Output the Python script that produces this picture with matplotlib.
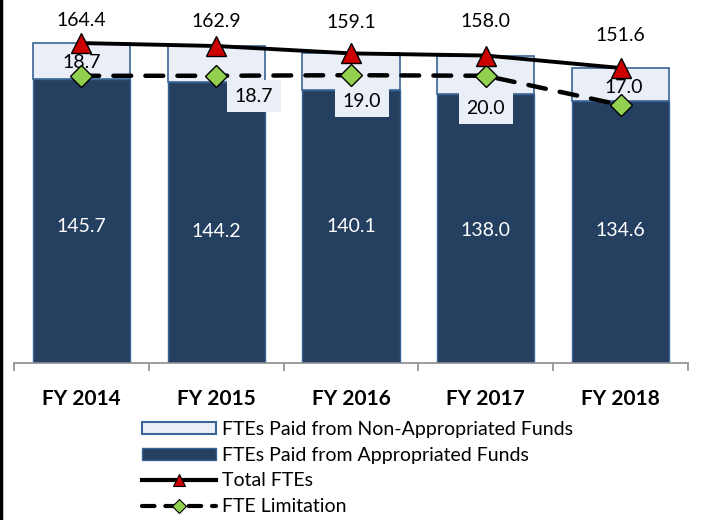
import matplotlib
matplotlib.use("Agg")
import matplotlib.pyplot as plt
from matplotlib.lines import Line2D
from matplotlib.patches import Patch
import numpy as np

plt.rcParams['font.family'] = ['Lato', 'DejaVu Sans']

categories = ["FY 2014", "FY 2015", "FY 2016", "FY 2017", "FY 2018"]
appropriated = [145.7, 144.2, 140.1, 138.0, 134.6]
non_appropriated = [18.7, 18.7, 19.0, 20.0, 17.0]
total_ftes = [164.4, 162.9, 159.1, 158.0, 151.6]
fte_limitation = [147.6, 147.6, 147.9, 147.6, 132.6]

# label placement (axis coordinates: x in category units, y in data units)
nonapp_label_x = [0.0, 1.28, 2.08, 3.0, 4.02]
nonapp_label_y = [154.3, 137.2, 134.6, 131.0, 141.8]
nonapp_label_box = [False, True, True, True, False]
total_label_y = [175.8, 175.3, 174.8, 175.3, 168.5]
app_label_y = [69.9, 67.8, 70.4, 68.3, 68.3]

navy = "#243F60"
light = "#E9EEF7"
edge = "#3A6494"

fig = plt.figure(figsize=(7.04, 5.20), dpi=100)
ax = fig.add_axes([14/704, (520-363)/520, (688-14)/704, 363/520])
x = np.arange(len(categories))
w = 0.72
ax.bar(x, appropriated, w, color=navy, edgecolor=edge, linewidth=1.0, zorder=2)
ax.bar(x, non_appropriated, w, bottom=appropriated, color=light, edgecolor=edge,
       linewidth=1.2, zorder=2)
dash = (0, (4.0, 3.2))
ax.plot(x, fte_limitation, color="black", lw=3.2, ls=dash,
        dash_capstyle='round', marker="D", markersize=11, markerfacecolor="#92D050",
        markeredgecolor="black", markeredgewidth=1.0, zorder=4)
ax.plot(x, total_ftes, color="black", lw=2.8, marker="^", markersize=14,
        markerfacecolor="#CC0000", markeredgecolor="black", markeredgewidth=1.0,
        zorder=5)

for i in range(len(categories)):
    ax.text(x[i], total_label_y[i], f"{total_ftes[i]:.1f}", ha="center", va="center",
            fontsize=14, color="black", zorder=6)
    ax.text(x[i], app_label_y[i], f"{appropriated[i]:.1f}", ha="center", va="center",
            fontsize=14, color="white", zorder=6)
    kw = {}
    if nonapp_label_box[i]:
        kw["bbox"] = dict(boxstyle="square,pad=0.4", facecolor=light, edgecolor="none")
    ax.text(nonapp_label_x[i], nonapp_label_y[i], f"{non_appropriated[i]:.1f}",
            ha="center", va="center", fontsize=14, color="black", zorder=3, **kw)

ax.set_xlim(-0.5, len(categories) - 0.5)
ax.set_ylim(0, 363/1.946)
for s in ["top", "right", "left"]:
    ax.spines[s].set_visible(False)
ax.spines["bottom"].set_color("#8C8C8C")
ax.spines["bottom"].set_linewidth(1.2)
ax.set_yticks([])
ax.set_xticks(x)
ax.set_xticklabels(categories, fontsize=15, fontweight="bold")
ax.tick_params(axis="x", which="major", length=0, pad=19)
ax.set_xticks(np.arange(-0.5, len(categories)), minor=True)
ax.tick_params(axis="x", which="minor", length=6, width=1.2, color="#8C8C8C")

handles = [
    Patch(facecolor=light, edgecolor=edge, linewidth=1.5),
    Patch(facecolor=navy, edgecolor=edge, linewidth=1.0),
    Line2D([], [], color="black", lw=3, marker="^", markersize=8,
           markerfacecolor="#CC0000", markeredgecolor="black", markeredgewidth=0.8),
    Line2D([], [], color="black", lw=3, ls=(0, (3.0, 2.6)), dash_capstyle='round',
           marker="D", markersize=7, markerfacecolor="#92D050",
           markeredgecolor="black", markeredgewidth=0.8),
]
labels = ["FTEs Paid from Non-Appropriated Funds", "FTEs Paid from Appropriated Funds",
          "Total FTEs", "FTE Limitation"]
fig.legend(handles, labels, loc="upper left",
           bbox_to_anchor=(142/704, 1 - 421/520), frameon=False, fontsize=14,
           handlelength=3.8, handleheight=0.6, handletextpad=0.3, labelspacing=0.45,
           borderaxespad=0, borderpad=0, numpoints=1)

fig.add_artist(Line2D([0.002, 0.002], [0, 1], color="black", lw=2.5,
                      transform=fig.transFigure))

fig.savefig("out.png", dpi=100)
